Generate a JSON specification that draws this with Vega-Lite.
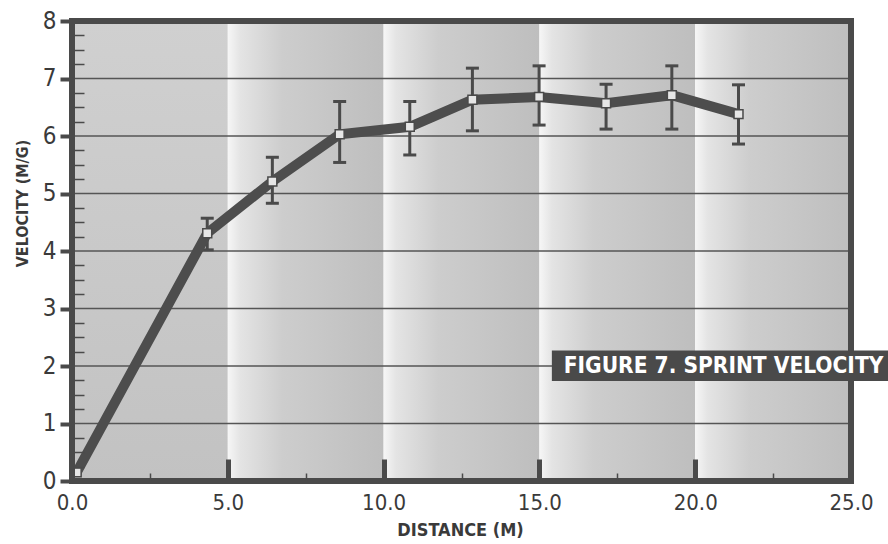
{
  "$schema": "https://vega.github.io/schema/vega-lite/v6.json",
  "width": 779,
  "height": 460,
  "autosize": {"type": "none"},
  "padding": {"left": 72, "top": 21, "right": 37, "bottom": 63},
  "background": "#ffffff",
  "view": {"stroke": null},
  "config": {
    "font": "'DejaVu Sans Condensed', 'DejaVu Sans', sans-serif",
    "axis": {"zindex": 2}
  },
  "datasets": {
    "pts": [
      {"d": 0.15, "v": 0.15},
      {"d": 4.34, "v": 4.31, "lo": 4.02, "hi": 4.57},
      {"d": 6.43, "v": 5.21, "lo": 4.83, "hi": 5.63},
      {"d": 8.59, "v": 6.03, "lo": 5.54, "hi": 6.6},
      {"d": 10.84, "v": 6.16, "lo": 5.67, "hi": 6.6},
      {"d": 12.85, "v": 6.63, "lo": 6.09, "hi": 7.18},
      {"d": 14.99, "v": 6.68, "lo": 6.19, "hi": 7.22},
      {"d": 17.14, "v": 6.57, "lo": 6.12, "hi": 6.9},
      {"d": 19.25, "v": 6.71, "lo": 6.12, "hi": 7.22},
      {"d": 21.39, "v": 6.38, "lo": 5.86, "hi": 6.89}
    ],
    "bands": [
      {"a": 5, "b": 10},
      {"a": 10, "b": 15},
      {"a": 15, "b": 20},
      {"a": 20, "b": 25}
    ],
    "grid": [{"g": 1}, {"g": 2}, {"g": 3}, {"g": 4}, {"g": 5}, {"g": 6}, {"g": 7}]
  },
  "layer": [
    {
      "data": {"values": [{"a": 0, "b": 5}]},
      "mark": {"type": "rect", "fill": {"gradient": "linear", "x1": 0, "y1": 0, "x2": 0, "y2": 1, "stops": [{"offset": 0, "color": "#d0d0d0"}, {"offset": 1, "color": "#c2c2c2"}]}},
      "encoding": {
        "x": {"field": "a", "type": "quantitative", "scale": {"domain": [0, 25], "nice": false, "zero": false},
          "axis": {"orient": "bottom", "zindex": 2, "values": [0, 5, 10, 15, 20, 25], "format": ".1f", "labelFlush": false, "labelFontSize": 22, "labelColor": "#3a3a3a", "tickSize": -22, "tickWidth": 5, "tickColor": "#4a4a4a", "domain": false, "grid": false, "labelPadding": 33, "title": "DISTANCE (M)", "titleFontSize": 18, "titleFontWeight": "bold", "titleColor": "#3a3a3a", "titleX": 388, "titleY": 49, "titleBaseline": "middle"}},
        "x2": {"field": "b"},
        "y": {"datum": 0, "type": "quantitative", "scale": {"domain": [0, 8], "nice": false},
          "axis": {"orient": "left", "zindex": 2, "values": [0, 1, 2, 3, 4, 5, 6, 7, 8], "labelFlush": false, "labelFontSize": 24, "labelColor": "#3a3a3a", "tickSize": 12, "tickWidth": 4, "tickColor": "#4a4a4a", "domain": false, "grid": false, "labelPadding": 4, "title": "VELOCITY (M/G)", "titleFontSize": 16, "titleFontWeight": "bold", "titleColor": "#3a3a3a", "titleX": -50, "titleY": 182, "titleAngle": -90, "titleBaseline": "middle", "titleAlign": "center"}},
        "y2": {"datum": 8}
      }
    },
    {
      "data": {"name": "bands"},
      "mark": {"type": "rect", "fill": {"gradient": "linear", "x1": 0, "y1": 0, "x2": 1, "y2": 0, "stops": [{"offset": 0, "color": "#f6f6f6"}, {"offset": 0.08, "color": "#e4e4e4"}, {"offset": 0.35, "color": "#cdcdcd"}, {"offset": 1, "color": "#bebebe"}]}},
      "encoding": {
        "x": {"field": "a", "type": "quantitative", "axis": {"orient": "bottom", "zindex": 2, "values": [2.5, 7.5, 12.5, 17.5, 22.5], "labels": false, "tickSize": -8, "tickWidth": 1.5, "tickColor": "#4a4a4a", "domain": false, "grid": false, "title": null}},
        "x2": {"field": "b"},
        "y": {"datum": 0, "type": "quantitative", "axis": {"orient": "left", "zindex": 2, "values": [0.25, 0.5, 0.75, 1.25, 1.5, 1.75, 2.25, 2.5, 2.75, 3.25, 3.5, 3.75, 4.25, 4.5, 4.75, 5.25, 5.5, 5.75, 6.25, 6.5, 6.75, 7.25, 7.5, 7.75], "labels": false, "tickSize": -12, "tickWidth": 1.5, "tickColor": "#4a4a4a", "domain": false, "grid": false, "title": null}},
        "y2": {"datum": 8}
      }
    },
    {
      "data": {"name": "grid"},
      "mark": {"type": "rule", "color": "#555555", "strokeWidth": 1.5},
      "encoding": {
        "y": {"field": "g", "type": "quantitative", "axis": null}
      }
    },
    {
      "data": {"values": [{"p": 0}, {"p": 25}]},
      "mark": {"type": "rule", "color": "#4a4a4a", "strokeWidth": 6},
      "encoding": {"x": {"field": "p", "type": "quantitative", "axis": null}}
    },
    {
      "data": {"values": [{"q": 0}, {"q": 8}]},
      "mark": {"type": "rule", "color": "#4a4a4a", "strokeWidth": 6, "strokeCap": "square"},
      "encoding": {"y": {"field": "q", "type": "quantitative", "axis": null}}
    },
    {
      "data": {"name": "pts"},
      "mark": {"type": "rule", "color": "#4a4a4a", "strokeWidth": 3},
      "encoding": {
        "x": {"field": "d", "type": "quantitative", "axis": null},
        "y": {"field": "lo", "type": "quantitative", "axis": null},
        "y2": {"field": "hi"}
      }
    },
    {
      "data": {"name": "pts"},
      "mark": {"type": "tick", "orient": "horizontal", "color": "#4a4a4a", "size": 13, "thickness": 3, "opacity": 1},
      "encoding": {
        "x": {"field": "d", "type": "quantitative", "axis": null},
        "y": {"field": "lo", "type": "quantitative", "axis": null}
      }
    },
    {
      "data": {"name": "pts"},
      "mark": {"type": "tick", "orient": "horizontal", "color": "#4a4a4a", "size": 13, "thickness": 3, "opacity": 1},
      "encoding": {
        "x": {"field": "d", "type": "quantitative", "axis": null},
        "y": {"field": "hi", "type": "quantitative", "axis": null}
      }
    },
    {
      "data": {"name": "pts"},
      "mark": {"type": "line", "color": "#4d4d4d", "strokeWidth": 10, "strokeJoin": "miter"},
      "encoding": {
        "x": {"field": "d", "type": "quantitative", "axis": null},
        "y": {"field": "v", "type": "quantitative", "axis": null}
      }
    },
    {
      "data": {"name": "pts"},
      "mark": {"type": "point", "shape": "square", "filled": true, "fill": "#e6e6e6", "stroke": "#4a4a4a", "strokeWidth": 1.5, "size": 80, "opacity": 1},
      "encoding": {
        "x": {"field": "d", "type": "quantitative", "axis": null},
        "y": {"field": "v", "type": "quantitative", "axis": null}
      }
    },
    {
      "data": {"values": [{"x1": 15.4, "x2": 26.5, "y1": 1.74, "y2": 2.27}]},
      "mark": {"type": "rect", "color": "#4a4a4a", "clip": false},
      "encoding": {
        "x": {"field": "x1", "type": "quantitative", "axis": null},
        "x2": {"field": "x2"},
        "y": {"field": "y1", "type": "quantitative", "axis": null},
        "y2": {"field": "y2"}
      }
    },
    {
      "data": {"values": [{"x": 15.78, "y": 2.0, "t": "FIGURE 7. SPRINT VELOCITY"}]},
      "mark": {"type": "text", "align": "left", "baseline": "middle", "color": "#ffffff", "fontSize": 22.5, "fontWeight": "bold"},
      "encoding": {
        "x": {"field": "x", "type": "quantitative", "axis": null},
        "y": {"field": "y", "type": "quantitative", "axis": null},
        "text": {"field": "t"}
      }
    }
  ],
  "resolve": {"axis": {"x": "independent", "y": "independent"}}
}
